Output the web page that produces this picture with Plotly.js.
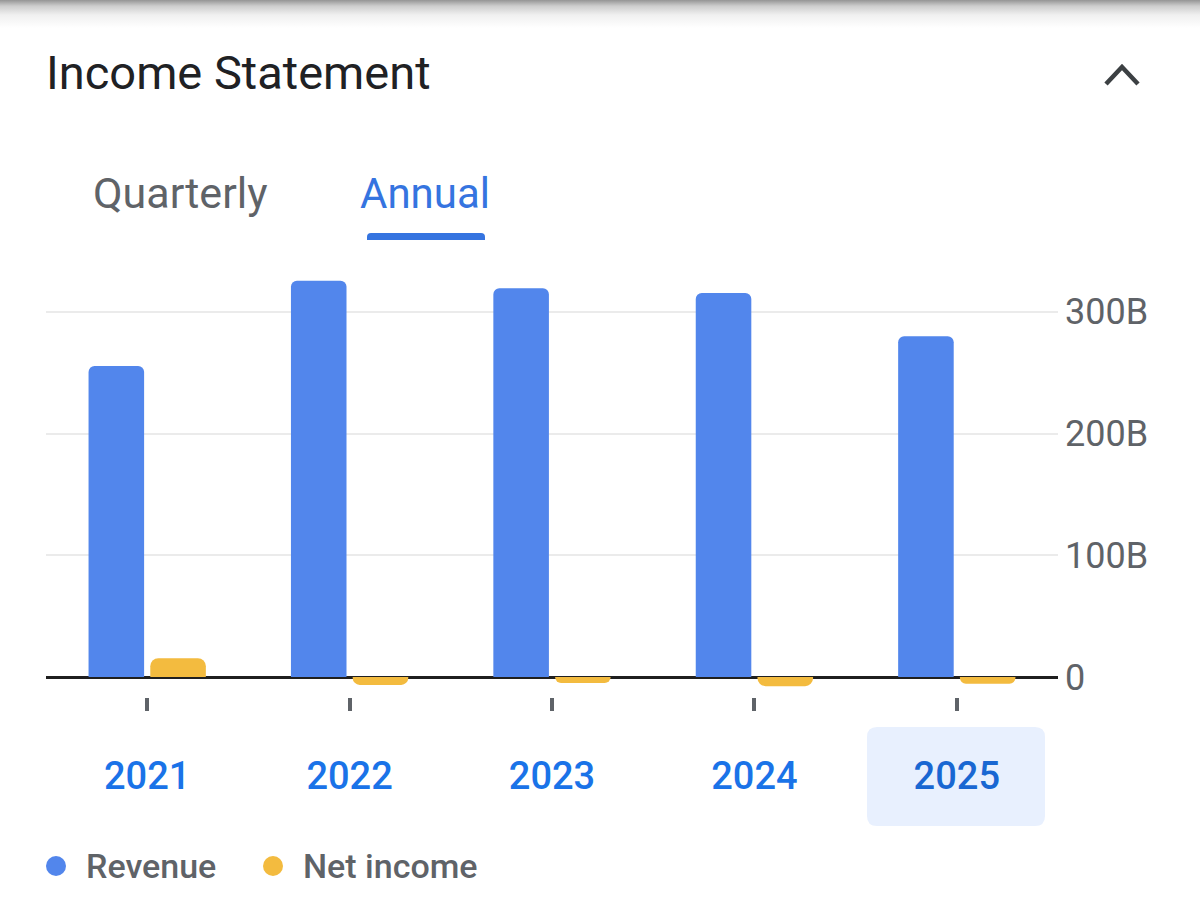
<!DOCTYPE html>
<html>
<head>
<meta charset="utf-8">
<script src="https://cdn.plot.ly/plotly-3.0.1.min.js"></script>
<style>
  html, body { margin: 0; padding: 0; }
  body {
    width: 1200px; height: 921px; overflow: hidden;
    background: linear-gradient(to bottom, #959595 0px, #cdcdcd 6px, #f0f0f0 15px, #ffffff 28px);
  }
  #chart { width: 1200px; height: 921px; }
</style>
</head>
<body>
<div id="chart"></div>
<script>
// ---- data (values in billions) ----
const years = ['2021', '2022', '2023', '2024', '2025'];
const revenue = [255.5, 325.5, 319.5, 315.5, 280];
const netIncome = [15.5, -6.5, -5, -7.5, -5.5];
const yTickVals = [0, 100, 200, 300];
const yTickText = ['0', '100B', '200B', '300B'];
const seriesNames = ['Revenue', 'Net income'];
const selectedYear = '2025';

// ---- layout helpers (pixel -> paper) ----
const FW = 1200, FH = 921;
const M = { l: 46, r: 142, t: 275, b: 224 };
const W = FW - M.l - M.r, H = FH - M.t - M.b;
const px = x => (x - M.l) / W;
const py = y => (FH - M.b - y) / H;

function roundRect(x0, y0, x1, y1, r, topOnly) {
  const p = (x, y) => px(x) + ',' + py(y);
  if (topOnly) {
    return 'M' + p(x0, y1) + ' L' + p(x0, y0 + r) + ' Q' + p(x0, y0) + ' ' + p(x0 + r, y0) +
      ' L' + p(x1 - r, y0) + ' Q' + p(x1, y0) + ' ' + p(x1, y0 + r) + ' L' + p(x1, y1) + ' Z';
  }
  return 'M' + p(x0 + r, y0) + ' L' + p(x1 - r, y0) + ' Q' + p(x1, y0) + ' ' + p(x1, y0 + r) +
    ' L' + p(x1, y1 - r) + ' Q' + p(x1, y1) + ' ' + p(x1 - r, y1) +
    ' L' + p(x0 + r, y1) + ' Q' + p(x0, y1) + ' ' + p(x0, y1 - r) +
    ' L' + p(x0, y0 + r) + ' Q' + p(x0, y0) + ' ' + p(x0 + r, y0) + ' Z';
}
function circle(cx, cy, r, color) {
  return { type: 'circle', xref: 'paper', yref: 'paper', x0: px(cx - r), x1: px(cx + r),
    y0: py(cy + r), y1: py(cy - r), fillcolor: color, line: { width: 0 } };
}

const BLUE = '#5286ec', YELLOW = '#f3bb3f';
const FONT = 'Roboto, "Open Sans", Arial, sans-serif';

const traces = [
  { type: 'bar', name: seriesNames[0], x: years, y: revenue,
    marker: { color: BLUE, cornerradius: 6 }, hoverinfo: 'skip', showlegend: false },
  { type: 'bar', name: seriesNames[1], x: years, y: netIncome,
    marker: { color: YELLOW, cornerradius: 8 }, hoverinfo: 'skip', showlegend: false }
];

const layout = {
  width: FW, height: FH,
  margin: M,
  paper_bgcolor: 'rgba(0,0,0,0)',
  plot_bgcolor: 'rgba(0,0,0,0)',
  font: { family: FONT },
  barmode: 'group',
  bargap: 0.39,
  bargroupgap: 0.1,
  showlegend: false,
  title: {
    text: 'Income Statement', x: 46 / FW, xanchor: 'left', y: 1 - 73 / FH, yanchor: 'middle',
    font: { size: 47, color: '#202124', family: FONT }
  },
  xaxis: {
    type: 'category', range: [-0.5, 4.5], fixedrange: true,
    showgrid: false, zeroline: false, showline: false,
    ticks: 'outside', ticklen: 13, tickwidth: 4, tickcolor: '#5f6368',
    tickvals: years,
    ticktext: years.map(y => y === selectedYear ? '<span style="color:#1967d2">' + y + '</span>' : y),
    tickfont: { size: 38, color: '#1a73e8', family: FONT, weight: 500 },
    ticklabelstandoff: 32
  },
  yaxis: {
    side: 'right', range: [-16.43, 330.3], fixedrange: true,
    tickvals: yTickVals, ticktext: yTickText,
    showgrid: true, gridcolor: '#ebebeb', gridwidth: 2,
    zeroline: true, zerolinecolor: '#1f1f1f', zerolinewidth: 3,
    showline: false, ticks: '',
    tickfont: { size: 36, color: '#5f6368', family: FONT },
    ticklabelstandoff: 6
  },
  shapes: [
    // selected-year highlight
    { type: 'path', xref: 'paper', yref: 'paper', layer: 'below',
      path: roundRect(867, 727, 1045, 826, 10, false), fillcolor: '#e8f0fe', line: { width: 0 } },
    // tab underline
    { type: 'path', xref: 'paper', yref: 'paper',
      path: roundRect(367, 233, 485, 240, 4, true), fillcolor: '#3574e0', line: { width: 0 } },
    // collapse caret
    { type: 'path', xref: 'paper', yref: 'paper',
      path: 'M' + px(1106) + ',' + py(84) + ' L' + px(1122) + ',' + py(67) + ' L' + px(1138) + ',' + py(84),
      line: { color: '#3c4043', width: 4.5 } },
    // legend dots
    circle(56, 866, 10, BLUE),
    circle(273, 866, 10, YELLOW)
  ],
  annotations: [
    { xref: 'paper', yref: 'paper', x: px(180), y: py(193), xanchor: 'center', yanchor: 'middle',
      text: 'Quarterly', showarrow: false, font: { size: 43, color: '#5f6368', family: FONT } },
    { xref: 'paper', yref: 'paper', x: px(425), y: py(193), xanchor: 'center', yanchor: 'middle',
      text: 'Annual', showarrow: false, font: { size: 42, color: '#3574e0', family: FONT } },
    { xref: 'paper', yref: 'paper', x: px(84), y: py(866), xanchor: 'left', yanchor: 'middle',
      text: seriesNames[0], showarrow: false, font: { size: 34, color: '#5f6368', family: FONT, weight: 500 } },
    { xref: 'paper', yref: 'paper', x: px(301), y: py(866), xanchor: 'left', yanchor: 'middle',
      text: seriesNames[1], showarrow: false, font: { size: 34, color: '#5f6368', family: FONT, weight: 500 } }
  ]
};

Plotly.newPlot('chart', traces, layout, { displayModeBar: false, staticPlot: true });
</script>
</body>
</html>
